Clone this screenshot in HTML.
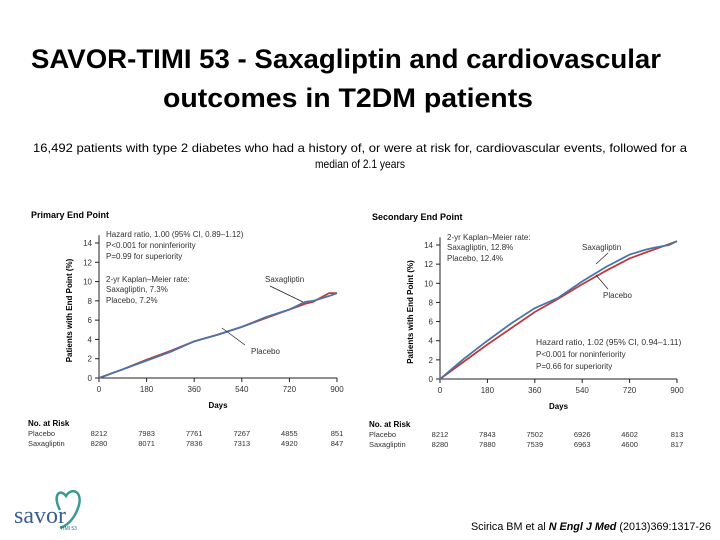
<!DOCTYPE html>
<html><head><meta charset="utf-8"><style>
html,body{margin:0;padding:0;background:#fff;}
svg{display:block;font-family:"Liberation Sans",sans-serif;}
</style></head><body>
<svg id="s" width="720" height="540" viewBox="0 0 720 540" xmlns="http://www.w3.org/2000/svg">
<text x="346" y="68" text-anchor="middle" font-size="27" font-weight="bold" textLength="630" lengthAdjust="spacingAndGlyphs">SAVOR-TIMI 53 - Saxagliptin and cardiovascular</text>
<text x="348" y="107" text-anchor="middle" font-size="27" font-weight="bold" textLength="370" lengthAdjust="spacingAndGlyphs">outcomes in T2DM patients</text>
<text x="360" y="152" text-anchor="middle" font-size="12" textLength="654" lengthAdjust="spacingAndGlyphs">16,492 patients with type 2 diabetes who had a history of, or were at risk for, cardiovascular events, followed for a</text>
<text x="360" y="168" text-anchor="middle" font-size="12" textLength="90" lengthAdjust="spacingAndGlyphs">median of 2.1 years</text>
<g id="left"></g>
<g id="right"></g>
<g>
<text x="14" y="523" font-size="24" fill="#3a5f8f" font-family="Liberation Serif,serif">savor</text>
<path d="M60 510 C52 495,60 488,66 496 C72 486,84 492,78 508 C74 520,66 526,60 528" fill="none" stroke="#3a9a8f" stroke-width="2.5"/>
<text x="60" y="530" font-size="5" fill="#3a5f8f">TIMI 53</text>
</g>
<text x="711" y="530" text-anchor="end" font-size="11" textLength="240" lengthAdjust="spacingAndGlyphs">Scirica BM et al <tspan font-style="italic" font-weight="bold">N Engl J Med</tspan> (2013)369:1317-26</text>
</svg>
<script>
const days = [0,90,180,270,360,450,540,630,720,780,810,870,900];
const primaryPlacebo = [0,0.9,1.9,2.8,3.8,4.5,5.3,6.2,7.1,7.7,7.9,8.8,8.8];
const primarySaxa = [0,0.9,1.8,2.7,3.8,4.5,5.3,6.3,7.1,7.9,8.0,8.5,8.8];
const secondaryPlacebo = [0,1.8,3.6,5.3,7.0,8.4,9.9,11.3,12.6,13.2,13.5,14.1,14.4];
const secondarySaxa = [0,2.1,4.0,5.8,7.4,8.5,10.2,11.7,13.0,13.5,13.7,14.0,14.4];
const xTicks = [0,180,360,540,720,900];
const yTicks = [0,2,4,6,8,10,12,14];
const riskPrimaryPlacebo = ["8212","7983","7761","7267","4855","851"];
const riskPrimarySaxa = ["8280","8071","7836","7313","4920","847"];
const riskSecondaryPlacebo = ["8212","7843","7502","6926","4602","813"];
const riskSecondarySaxa = ["8280","7880","7539","6963","4600","817"];
const NS="http://www.w3.org/2000/svg";
function mk(p,tag,at,txt){const e=document.createElementNS(NS,tag);for(const k in at)e.setAttribute(k,at[k]);if(txt!==undefined)e.textContent=txt;p.appendChild(e);return e;}
function chart(g,o){
  const X=d=>o.x0+(o.x1-o.x0)*d/900, Y=v=>o.y0-(o.y0-o.y14)*v/14;
  let t=mk(g,'text',{x:o.x0-68,y:o.y14-25,'font-size':9,'font-weight':'bold'},o.title);
  
  
  let ax=mk(g,'path',{d:`M${X(0)} ${Y(14.8)}V${Y(0)}H${X(900)}`,stroke:'#222',fill:'none','stroke-width':1});
  
  
  yTicks.forEach(v=>{
    mk(g,'line',{x1:X(0)-4,x2:X(0),y1:Y(v),y2:Y(v),stroke:'#222'});
    const l=mk(g,'text',{x:X(0)-7,y:Y(v)+3,'font-size':8,'text-anchor':'end',fill:'#333'},String(v));
    
    
  });
  xTicks.forEach(d=>{
    mk(g,'line',{x1:X(d),x2:X(d),y1:Y(0),y2:Y(0)+4,stroke:'#222'});
    const l=mk(g,'text',{x:X(d),y:Y(0)+14,'font-size':8,'text-anchor':'middle',fill:'#333'},String(d));
    
    
  });
  const xt=mk(g,'text',{x:(o.x0+o.x1)/2,y:Y(0)+30,'font-size':8,'font-weight':'bold','text-anchor':'middle'},'Days');
  
  
  const cy=(o.y0+o.y14)/2;
  const yt=mk(g,'text',{x:X(0)-27,y:cy,'font-size':8,'font-weight':'bold','text-anchor':'middle',transform:`rotate(-90 ${X(0)-27} ${cy})`},'Patients with End Point (%)');
  
  
  [[o.plac,'#c0393b','placebo-line'],[o.saxa,'#4a74a8','saxagliptin-line']].forEach(([arr,c,n])=>{
    const p=mk(g,'polyline',{points:days.map((d,i)=>X(d)+','+Y(arr[i])).join(' '),fill:'none',stroke:c,'stroke-width':1.8});
    
    
  });
  o.notes.forEach(([x,y,s,fs])=>{const n=mk(g,'text',{x,y,'font-size':fs||8,fill:'#333'},s);
    
    });
  o.leaders.forEach(([a,b,c,d])=>mk(g,'line',{x1:a,y1:b,x2:c,y2:d,stroke:'#222','stroke-width':0.7}));
  const rt=mk(g,'text',{x:o.x0-71,y:o.y0+48,'font-size':8,'font-weight':'bold'},'No. at Risk');
  
  
  [['Placebo',o.rp,o.y0+58],['Saxagliptin',o.rs,o.y0+68]].forEach(([lab,arr,yy])=>{
    const l=mk(g,'text',{x:o.x0-71,y:yy,'font-size':7.5,fill:'#333'},lab);
    
    
    arr.forEach((v,i)=>{const c=mk(g,'text',{x:X(xTicks[i]),y:yy,'font-size':7.5,'text-anchor':'middle',fill:'#333'},v);
      
      });
  });
}
chart(document.getElementById('left'),{x0:99,x1:337,y0:378,y14:243,title:'Primary End Point',
  plac:primaryPlacebo,saxa:primarySaxa,rp:riskPrimaryPlacebo,rs:riskPrimarySaxa,
  notes:[[106,237,'Hazard ratio, 1.00 (95% CI, 0.89–1.12)'],[106,248,'P<0.001 for noninferiority'],[106,259,'P=0.99 for superiority'],[106,282,'2-yr Kaplan–Meier rate:'],[106,292,'Saxagliptin, 7.3%'],[106,303,'Placebo, 7.2%'],[265,282,'Saxagliptin'],[251,354,'Placebo']],
  leaders:[[270,286,303,302],[245,345,222,328]]});
chart(document.getElementById('right'),{x0:440,x1:677,y0:379,y14:245,title:'Secondary End Point',
  plac:secondaryPlacebo,saxa:secondarySaxa,rp:riskSecondaryPlacebo,rs:riskSecondarySaxa,
  notes:[[447,240,'2-yr Kaplan–Meier rate:'],[447,250,'Saxagliptin, 12.8%'],[447,261,'Placebo, 12.4%'],[582,250,'Saxagliptin'],[603,298,'Placebo'],[536,345,'Hazard ratio, 1.02 (95% CI, 0.94–1.11)',8.5],[536,357,'P<0.001 for noninferiority'],[536,369,'P=0.66 for superiority']],
  leaders:[[608,253,596,264],[608,289,596,275]]});
</script>
</body></html>
